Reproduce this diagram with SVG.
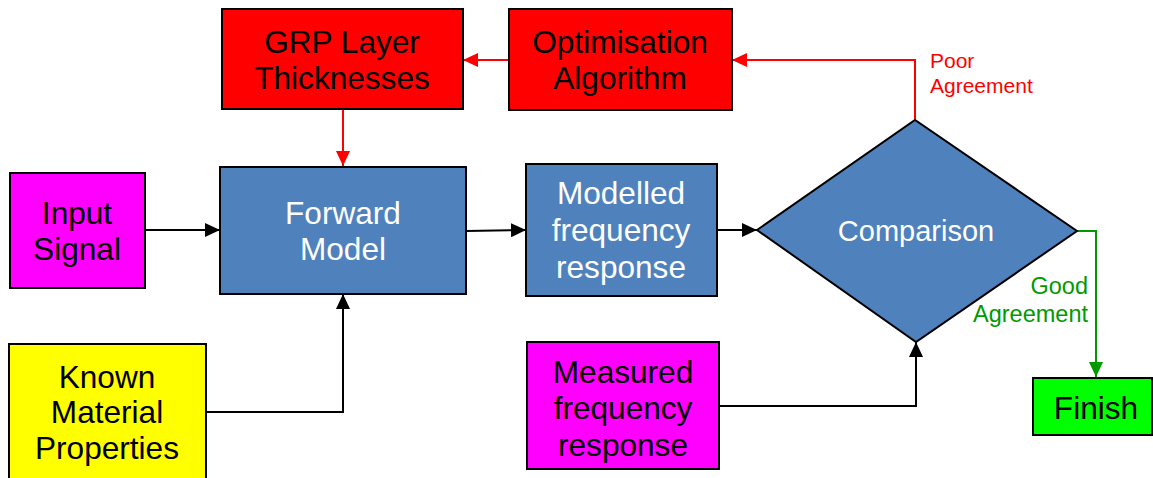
<svg xmlns="http://www.w3.org/2000/svg" width="1153" height="478" viewBox="0 0 1153 478">
<style>
.box{stroke:#000;stroke-width:2}
.t{font-family:"Liberation Sans",Arial,sans-serif;font-size:31.6px;text-anchor:middle}
.dark{fill:#000}
.light{fill:#fff}
.c{fill:none;stroke-width:2}
.k{stroke:#000}
.r{stroke:#f00}
.g{stroke:#090}
.lbl{font-family:"Liberation Sans",Arial,sans-serif;font-size:21px}
</style>
<defs>
<marker id="ak" markerUnits="userSpaceOnUse" markerWidth="16" markerHeight="14" refX="15" refY="7" orient="auto"><path d="M0,0 L15,7 L0,14 Z" fill="#000"/></marker>
<marker id="ar" markerUnits="userSpaceOnUse" markerWidth="16" markerHeight="14" refX="15" refY="7" orient="auto"><path d="M0,0 L15,7 L0,14 Z" fill="#f00"/></marker>
<marker id="ag" markerUnits="userSpaceOnUse" markerWidth="16" markerHeight="14" refX="15" refY="7" orient="auto"><path d="M0,0 L15,7 L0,14 Z" fill="#090"/></marker>
</defs>
<rect width="1153" height="478" fill="#fff"/>
<g id="connectors">
<path class="c r" d="M509,60 H463" marker-end="url(#ar)"/>
<path class="c r" d="M343,109 V166" marker-end="url(#ar)"/>
<path class="c r" d="M915,120 V60 H732" marker-end="url(#ar)"/>
<path class="c k" d="M145,230 H220" marker-end="url(#ak)"/>
<path class="c k" d="M466,231 L526,230" marker-end="url(#ak)"/>
<path class="c k" d="M717,230 H757" marker-end="url(#ak)"/>
<path class="c k" d="M206,412 H343 V294" marker-end="url(#ak)"/>
<path class="c k" d="M719,406 H916 V342" marker-end="url(#ak)"/>
<path class="c g" d="M1077,231 H1096 V377" marker-end="url(#ag)"/>
<text class="lbl" x="930" y="68" fill="#f00">Poor</text>
<text class="lbl" x="930" y="93" fill="#f00">Agreement</text>
<text class="lbl" x="1088" y="294" fill="#090" text-anchor="end" style="font-size:23.5px">Good</text>
<text class="lbl" x="1088" y="322" fill="#090" text-anchor="end" style="font-size:23.5px">Agreement</text>
</g>
<g id="grp">
<rect class="box" x="222" y="9" width="241" height="100" fill="#f00"/>
<text class="t dark" x="342" y="53">GRP Layer</text>
<text class="t dark" x="342" y="89">Thicknesses</text>
</g>
<g id="optimisation">
<rect class="box" x="509" y="9" width="223" height="101" fill="#f00"/>
<text class="t dark" x="620" y="53">Optimisation</text>
<text class="t dark" x="620" y="89">Algorithm</text>
</g>
<g id="input">
<rect class="box" x="10" y="173" width="135" height="115" fill="#f0f"/>
<text class="t dark" x="77" y="224">Input</text>
<text class="t dark" x="77" y="260">Signal</text>
</g>
<g id="forward">
<rect class="box" x="220" y="167" width="246" height="127" fill="#4f81bd"/>
<text class="t light" x="343" y="224">Forward</text>
<text class="t light" x="343" y="260">Model</text>
</g>
<g id="modelled">
<rect class="box" x="526" y="164" width="191" height="132" fill="#4f81bd"/>
<text class="t light" x="621" y="204">Modelled</text>
<text class="t light" x="621" y="241">frequency</text>
<text class="t light" x="621" y="278">response</text>
</g>
<g id="comparison">
<polygon class="box" points="757,230 915,120 1077,231 916,342" fill="#4f81bd"/>
<text class="t light" x="916" y="241" style="font-size:29px">Comparison</text>
</g>
<g id="known">
<rect class="box" x="9" y="344" width="197" height="140" fill="#ff0"/>
<text class="t dark" x="107" y="388">Known</text>
<text class="t dark" x="107" y="423">Material</text>
<text class="t dark" x="107" y="459">Properties</text>
</g>
<g id="measured">
<rect class="box" x="527" y="342" width="192" height="127" fill="#f0f"/>
<text class="t dark" x="623" y="383">Measured</text>
<text class="t dark" x="623" y="419">frequency</text>
<text class="t dark" x="623" y="456">response</text>
</g>
<g id="finish">
<rect class="box" x="1033" y="378" width="119" height="57" fill="#0f0"/>
<text class="t dark" x="1096" y="419">Finish</text>
</g>
</svg>
